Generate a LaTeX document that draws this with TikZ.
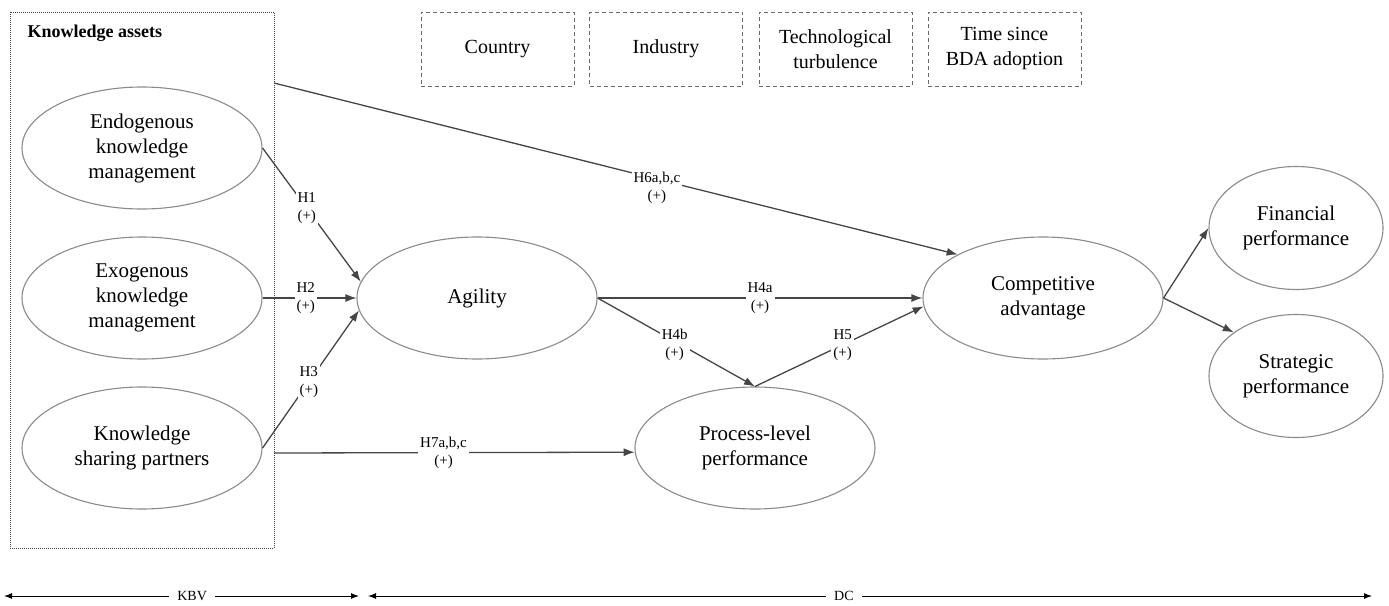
\documentclass[tikz,border=0pt]{standalone}
\usepackage{fontspec}
\setmainfont{Liberation Serif}
\usetikzlibrary{shapes.geometric,arrows.meta}
\definecolor{ellgray}{HTML}{8A8A8A}
\definecolor{lngray}{HTML}{454545}
\definecolor{boxgray}{HTML}{6A6A6A}
\begin{document}
\begin{tikzpicture}[x=1pt,y=-1pt,
  ell/.style={draw=ellgray, line width=1.1pt, ellipse, minimum width=240pt, minimum height=122pt, inner sep=0pt, align=center, font=\rmfamily\fontsize{21}{25}\selectfont},
  sell/.style={ell, minimum width=174pt, minimum height=123pt},
  ctrl/.style={draw=boxgray, line width=0.9pt, dash pattern=on 4pt off 3pt, minimum width=153pt, minimum height=74pt, inner sep=0pt, align=center, font=\rmfamily\fontsize{20}{25}\selectfont},
  conn/.style={draw=lngray, line width=1.3pt, -{Latex[length=11pt,width=8pt]}},
  lab/.style={fill=white, align=center, inner sep=2pt, font=\rmfamily\fontsize{15}{18}\selectfont},
  dim/.style={draw=black, line width=1pt, {Latex[length=8pt,width=6pt]}-{Latex[length=8pt,width=6pt]}},
  dimlab/.style={fill=white, inner xsep=8pt, inner ysep=2pt, font=\rmfamily\fontsize{14}{14}\selectfont}
]
\useasboundingbox (0,0) rectangle (1389,605);

% knowledge assets box
\node[draw=lngray, line width=1pt, densely dotted, minimum width=264pt, minimum height=536pt, inner sep=0pt] (kbox) at (142,280) {};
\node[anchor=west, font=\rmfamily\fontsize{18}{20}\selectfont\bfseries] (kahead) at (24,33) {Knowledge assets};

% control boxes
\node[ctrl] (country) at (497.5,49) {Country};
\node[ctrl] (industry) at (666,49) {Industry};
\node[ctrl] (techturb) at (835.5,49) {Technological\\turbulence};
\node[ctrl] (timebda) at (1004.5,49) {Time since\\BDA adoption};

% ellipses
\node[ell] (endo) at (142,148) {Endogenous\\knowledge\\management};
\node[ell] (exo) at (142,298) {Exogenous\\knowledge\\management};
\node[ell] (ksp) at (142,448) {Knowledge\\sharing partners};
\node[ell] (agility) at (477,298) {Agility};
\node[ell] (proc) at (755,448) {Process-level\\performance};
\node[ell] (comp) at (1043,298) {Competitive\\advantage};
\node[sell] (fin) at (1296,228) {Financial\\performance};
\node[sell] (strat) at (1296,376) {Strategic\\performance};

% free ends on the box edge
\coordinate (h6s) at (274,83);
\coordinate (h7s) at (274,453);

% connectors
\draw[conn] (endo.east) -- node[lab, pos=0.45] {H1\\(+)} (agility.172);
\draw[conn] (exo.east) -- node[lab, pos=0.46] {H2\\(+)} (agility.west);
\draw[conn] (ksp.east) -- node[lab, pos=0.48] {H3\\(+)} (agility.186);
\draw[conn] (h6s) -- node[lab, pos=0.56, yshift=-9pt] {H6a,b,c\\(+)} (comp.153);
\draw[conn] (h7s) -- node[lab, pos=0.47] {H7a,b,c\\(+)} (proc.182.5);
\draw[conn] (agility.east) -- node[lab, pos=0.5] {H4a\\(+)} (comp.west);
\draw[conn] (agility.east) -- node[lab, pos=0.49, yshift=-4pt] {H4b\\(+)} (proc.north);
\draw[conn] (proc.north) -- node[lab, pos=0.52] {H5\\(+)} (comp.184);
\draw[conn] (comp.east) -- (fin.west);
\draw[conn] (comp.east) -- (strat.145);

% bottom theory spans
\coordinate (kbvl) at (4,596);
\coordinate (kbvr) at (359,596);
\coordinate (dcl) at (368,596);
\coordinate (dcr) at (1372,596);
\draw[dim] (kbvl) -- node[dimlab, pos=0.53] {KBV} (kbvr);
\draw[dim] (dcl) -- node[dimlab, pos=0.474] {DC} (dcr);
\end{tikzpicture}
\end{document}
